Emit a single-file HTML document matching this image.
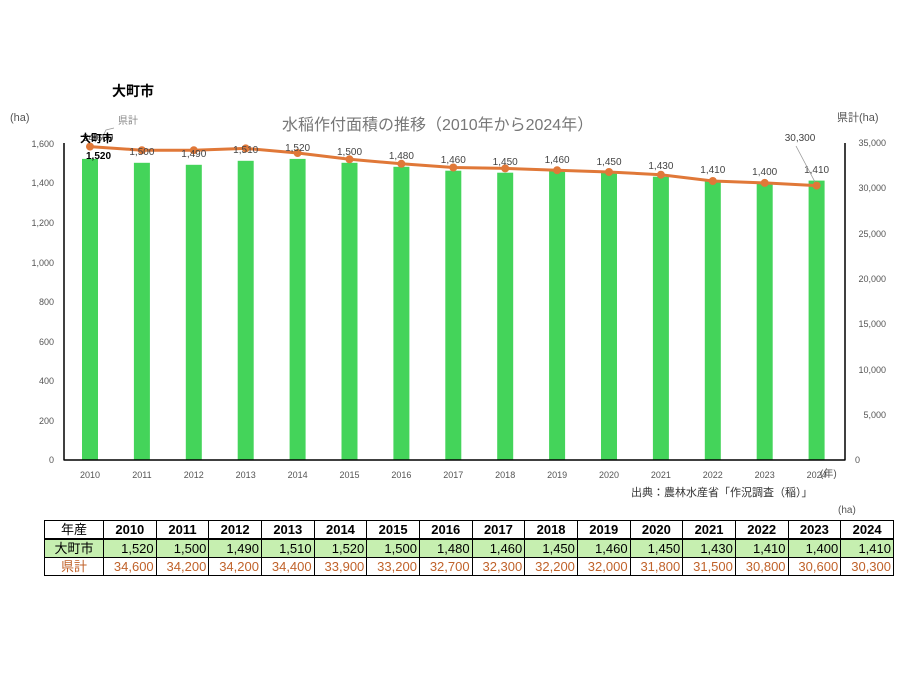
<!DOCTYPE html>
<html><head><meta charset="utf-8"><style>
body{margin:0;background:#fff;width:918px;height:688px;overflow:hidden;font-family:"Liberation Sans","Noto Sans CJK JP",sans-serif}
svg{position:absolute;left:0;top:0}
table{position:absolute;left:44px;top:520px;border-collapse:collapse;font-size:13px;table-layout:fixed;width:850px}
td{border:1px solid #000;height:17px;padding:0 2px;text-align:right;line-height:17px}
td:first-child{text-align:center;width:54px}
tr.h td{text-align:center;font-weight:bold;border-bottom:2px solid #000}
tr.h td:first-child{font-weight:normal}
tr.g td{background:#c6efb0}
tr.p td{color:#c0622a}
</style></head><body>
<svg width="918" height="688" font-family="Liberation Sans, Noto Sans CJK JP, sans-serif">
<text x="112" y="96" font-size="14" font-weight="bold">大町市</text>
<text x="282" y="130" font-size="16" fill="#777">水稲作付面積の推移（2010年から2024年）</text>
<text x="10" y="121" font-size="11" fill="#555">(ha)</text>
<text x="837" y="121" font-size="11" fill="#555">県計(ha)</text>
<g font-size="9" fill="#555" text-anchor="end">
<text x="54" y="463">0</text><text x="54" y="424">200</text><text x="54" y="384">400</text><text x="54" y="345">600</text><text x="54" y="305">800</text><text x="54" y="266">1,000</text><text x="54" y="226">1,200</text><text x="54" y="186">1,400</text><text x="54" y="147">1,600</text>
</g>
<g font-size="9" fill="#555" text-anchor="end">
<text x="860" y="463">0</text><text x="886" y="418">5,000</text><text x="886" y="373">10,000</text><text x="886" y="327">15,000</text><text x="886" y="282">20,000</text><text x="886" y="237">25,000</text><text x="886" y="191">30,000</text><text x="886" y="146">35,000</text>
</g>
<g fill="#44d45a">
<rect x="82" y="158.9" width="16" height="301.1"/><rect x="133.9" y="162.8" width="16" height="297.2"/><rect x="185.8" y="164.8" width="16" height="295.2"/><rect x="237.7" y="160.8" width="16" height="299.2"/><rect x="289.6" y="158.9" width="16" height="301.1"/><rect x="341.5" y="162.8" width="16" height="297.2"/><rect x="393.4" y="166.8" width="16" height="293.2"/><rect x="445.3" y="170.7" width="16" height="289.3"/><rect x="497.2" y="172.7" width="16" height="287.3"/><rect x="549.1" y="170.7" width="16" height="289.3"/><rect x="601" y="172.7" width="16" height="287.3"/><rect x="652.9" y="176.7" width="16" height="283.3"/><rect x="704.8" y="180.6" width="16" height="279.4"/><rect x="756.7" y="182.6" width="16" height="277.4"/><rect x="808.6" y="180.6" width="16" height="279.4"/>
</g>
<line x1="64" y1="143" x2="64" y2="460.5" stroke="#000" stroke-width="1.5"/>
<line x1="64" y1="460" x2="845" y2="460" stroke="#000" stroke-width="1.5"/>
<line x1="845" y1="143" x2="845" y2="460.5" stroke="#000" stroke-width="1.5"/>
<polyline fill="none" stroke="#e07838" stroke-width="3" points="90,146.6 141.9,150.2 193.8,150.2 245.7,148.4 297.6,153 349.5,159.3 401.4,163.8 453.3,167.5 505.2,168.4 557.1,170.2 609,172 660.9,174.7 712.8,181 764.7,182.9 816.6,185.6"/>
<g fill="#e07838">
<circle cx="90" cy="146.6" r="4"/><circle cx="141.9" cy="150.2" r="4"/><circle cx="193.8" cy="150.2" r="4"/><circle cx="245.7" cy="148.4" r="4"/><circle cx="297.6" cy="153" r="4"/><circle cx="349.5" cy="159.3" r="4"/><circle cx="401.4" cy="163.8" r="4"/><circle cx="453.3" cy="167.5" r="4"/><circle cx="505.2" cy="168.4" r="4"/><circle cx="557.1" cy="170.2" r="4"/><circle cx="609" cy="172" r="4"/><circle cx="660.9" cy="174.7" r="4"/><circle cx="712.8" cy="181" r="4"/><circle cx="764.7" cy="182.9" r="4"/><circle cx="816.6" cy="185.6" r="4"/>
</g>
<g font-size="10" fill="#444" text-anchor="middle">
<text x="141.9" y="155">1,500</text><text x="193.8" y="157">1,490</text><text x="245.7" y="153">1,510</text><text x="297.6" y="151">1,520</text><text x="349.5" y="155">1,500</text><text x="401.4" y="159">1,480</text><text x="453.3" y="163">1,460</text><text x="505.2" y="165">1,450</text><text x="557.1" y="163">1,460</text><text x="609" y="165">1,450</text><text x="660.9" y="169">1,430</text><text x="712.8" y="173">1,410</text><text x="764.7" y="175">1,400</text><text x="816.6" y="173">1,410</text>
<text x="98" y="141">34,600</text><text x="800" y="141">30,300</text>
</g>
<line x1="796" y1="146" x2="815" y2="182" stroke="#999" stroke-width="0.8"/>
<text x="118" y="124" font-size="10" fill="#888">県計</text>
<polyline points="114,128 106,130 102,138" fill="none" stroke="#999" stroke-width="0.8"/>
<text x="80" y="142" font-size="11" font-weight="bold">大町市</text>
<text x="86" y="159" font-size="10" font-weight="bold">1,520</text>
<g font-size="9" fill="#555" text-anchor="middle">
<text x="90" y="478">2010</text><text x="141.9" y="478">2011</text><text x="193.8" y="478">2012</text><text x="245.7" y="478">2013</text><text x="297.6" y="478">2014</text><text x="349.5" y="478">2015</text><text x="401.4" y="478">2016</text><text x="453.3" y="478">2017</text><text x="505.2" y="478">2018</text><text x="557.1" y="478">2019</text><text x="609" y="478">2020</text><text x="660.9" y="478">2021</text><text x="712.8" y="478">2022</text><text x="764.7" y="478">2023</text><text x="816.6" y="478">2024</text>
</g>
<text x="820" y="477" font-size="10" fill="#555">(年)</text>
<text x="631" y="496" font-size="11" fill="#333">出典：農林水産省「作況調査（稲）」</text>
<text x="838" y="513" font-size="10" fill="#555">(ha)</text>
</svg>
<table>
<tr class="h"><td>年産</td><td>2010</td><td>2011</td><td>2012</td><td>2013</td><td>2014</td><td>2015</td><td>2016</td><td>2017</td><td>2018</td><td>2019</td><td>2020</td><td>2021</td><td>2022</td><td>2023</td><td>2024</td></tr>
<tr class="g"><td>大町市</td><td>1,520</td><td>1,500</td><td>1,490</td><td>1,510</td><td>1,520</td><td>1,500</td><td>1,480</td><td>1,460</td><td>1,450</td><td>1,460</td><td>1,450</td><td>1,430</td><td>1,410</td><td>1,400</td><td>1,410</td></tr>
<tr class="p"><td>県計</td><td>34,600</td><td>34,200</td><td>34,200</td><td>34,400</td><td>33,900</td><td>33,200</td><td>32,700</td><td>32,300</td><td>32,200</td><td>32,000</td><td>31,800</td><td>31,500</td><td>30,800</td><td>30,600</td><td>30,300</td></tr>
</table>
</body></html>
